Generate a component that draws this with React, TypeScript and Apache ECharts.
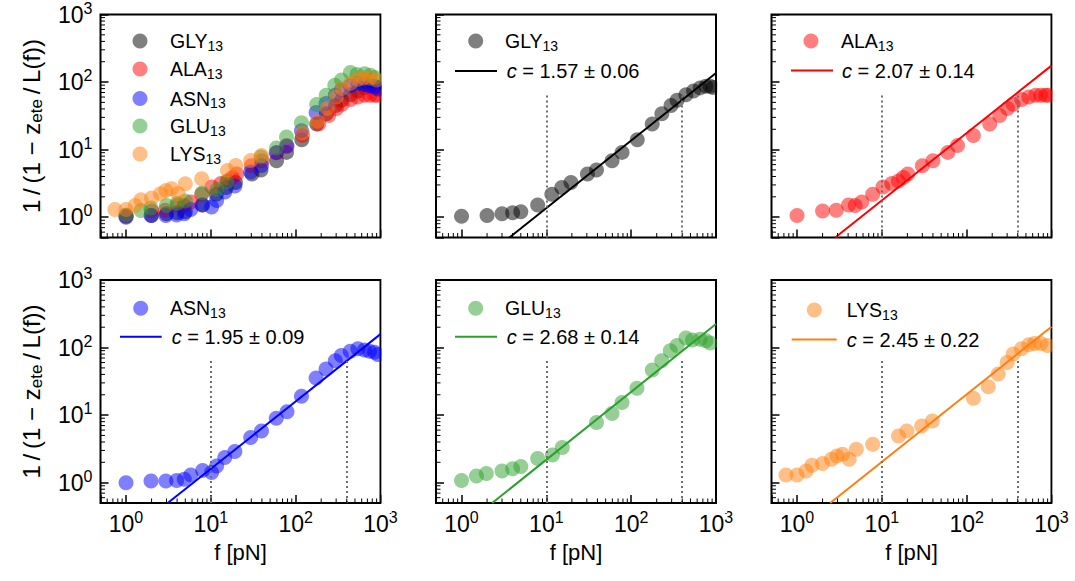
import React, { useEffect, useRef } from "react";
import * as echarts from "echarts";

const FONT = "'Liberation Sans', Arial, Helvetica, sans-serif";

// ---- data ----
const glyF = [1.0, 2.0, 3.0, 4.0, 5.0, 7.9, 11.6, 15.2, 19.5, 30.5, 39, 59.5, 78, 118, 177, 230, 295, 347, 442, 543, 650, 760, 855, 925];
const glyY = [1.03, 1.06, 1.12, 1.16, 1.2, 1.51, 2.18, 2.74, 3.25, 4.34, 5.0, 6.85, 9.1, 14, 24, 34, 45, 54, 65, 74, 82, 87, 87, 83];

const alaF = [1.0, 2.0, 2.9, 4.05, 4.85, 5.8, 7.8, 10.3, 13.1, 15.7, 17.9, 20.2, 30, 40, 60, 78, 120, 187, 245, 303, 353, 445, 540, 650, 745, 850, 910];
const alaY = [1.06, 1.23, 1.27, 1.51, 1.49, 1.67, 2.18, 2.8, 3.14, 3.44, 3.86, 4.34, 5.77, 6.85, 9.1, 11.5, 16.2, 24, 32, 40.5, 47, 55, 60, 64, 64, 64, 64];

const asnF = [1.0, 1.97, 2.95, 3.95, 4.86, 5.8, 8, 10.2, 11.7, 14.6, 19.2, 29.5, 39.5, 59, 79, 117, 174, 228, 293, 345, 440, 541, 647, 743, 850, 930];
const asnY = [1.0, 1.06, 1.06, 1.08, 1.12, 1.3, 1.52, 1.41, 1.77, 2.35, 2.89, 4.66, 5.84, 9.0, 11.2, 19, 35.5, 48, 64, 76, 88, 95.7, 92, 88, 85, 79];

const gluF = [1.0, 1.5, 1.96, 3.0, 4.0, 5.0, 7.9, 11.8, 15.4, 39, 59.5, 78, 117, 177, 229, 289, 347, 442, 528, 650, 760, 855];
const gluY = [1.08, 1.25, 1.37, 1.49, 1.61, 1.73, 2.27, 2.57, 3.31, 7.8, 10.6, 15.4, 24.9, 46.6, 64, 90, 107, 138, 129, 133, 126, 117];

const lysF = [0.74, 1.0, 1.28, 1.5, 2.0, 2.55, 2.95, 3.44, 4.12, 5.0, 7.8, 15.7, 19.7, 29.5, 39.4, 120, 180, 235, 300, 353, 443, 540, 631, 748, 895];
const lysY = [1.3, 1.3, 1.49, 1.81, 1.92, 2.22, 2.48, 2.63, 2.22, 3.12, 3.7, 4.9, 5.84, 6.9, 8.2, 17.7, 26.3, 40.6, 60, 80.5, 95.7, 110, 115, 115, 107];

// fitted power-law lines (endpoints)
const fitGly = [[3.67, 0.5], [1000, 136]];
const fitAla = [[2.82, 0.5], [1000, 175]];
const fitAsn = [[3.1, 0.5], [1000, 158]];
const fitGlu = [[2.3, 0.5], [1000, 223]];
const fitLys = [[2.46, 0.5], [1000, 203]];

const fitLabels = ["1.57 ± 0.06", "2.07 ± 0.14", "1.95 ± 0.09", "2.68 ± 0.14", "2.45 ± 0.22"];
const names = ["GLY", "ALA", "ASN", "GLU", "LYS"];
const colors = ["#000000", "#ff0000", "#0000ff", "#2ca02c", "#ff7f0e"];

const guideX = [10, 400];
const guideTop = 68;

const minorTicks = [0.6, 0.7, 0.8, 0.9, 2, 3, 4, 5, 6, 7, 8, 9, 20, 30, 40, 50, 60, 70, 80, 90, 200, 300, 400, 500, 600, 700, 800, 900];
const XMIN = 0.5, XMAX = 1000, YMIN = 0.5, YMAX = 1000;

// ---- layout ----
const LEFTS = [100.5, 436, 771.5];
const TOPS = [14.5, 280];
const W = 280;
const H = 223;

const zip = (a: number[], b: number[]) => a.map((v, i) => [v, b[i]]);
const datasets = [zip(glyF, glyY), zip(alaF, alaY), zip(asnF, asnY), zip(gluF, gluY), zip(lysF, lysY)];
const fits = [fitGly, fitAla, fitAsn, fitGlu, fitLys];

const powLabel = (v: number) => {
  const l = Math.log10(v);
  const e = Math.round(l);
  if (Math.abs(l - e) > 1e-6) return "";
  return `{b|10}{s|${e}}`;
};
const powRich = {
  b: { fontSize: 23, fontFamily: FONT, color: "#000", lineHeight: 29, verticalAlign: "middle" },
  s: { fontSize: 16, fontFamily: FONT, color: "#000", lineHeight: 16, verticalAlign: "top" },
};

const THIN = "\u2009";
const yTitle = `1${THIN}/${THIN}(1 − z{sub|ete}${THIN}/${THIN}L(f))`;

function buildOption() {
  const grid: any[] = [];
  const xAxis: any[] = [];
  const yAxis: any[] = [];
  const series: any[] = [];
  const graphic: any[] = [];

  const panelSets = [[0, 1, 2, 3, 4], [0], [1], [2], [3], [4]];

  for (let i = 0; i < 6; i++) {
    const row = Math.floor(i / 3);
    const col = i % 3;
    grid.push({
      left: LEFTS[col], top: TOPS[row], width: W, height: H,
      show: true, borderColor: "#000", borderWidth: 2, backgroundColor: "transparent",
    });
    xAxis.push({
      type: "log", logBase: 10, gridIndex: i, min: XMIN, max: XMAX,
      axisLine: { show: false },
      axisTick: { show: true, inside: true, length: 8, lineStyle: { color: "#000", width: 1.5 } },
      axisLabel: { show: row === 1, formatter: powLabel, rich: powRich, margin: 6 },
      splitLine: { show: false },
      name: row === 1 ? "f [pN]" : "",
      nameLocation: "middle", nameGap: 37,
      nameTextStyle: { fontSize: 22, fontFamily: FONT, color: "#000", lineHeight: 25 },
    });
    yAxis.push({
      type: "log", logBase: 10, gridIndex: i, min: YMIN, max: YMAX,
      axisLine: { show: false },
      axisTick: { show: true, inside: true, length: 8, lineStyle: { color: "#000", width: 1.5 } },
      axisLabel: { show: col === 0, formatter: powLabel, rich: powRich, margin: 8 },
      splitLine: { show: false },
      name: col === 0 ? yTitle : "",
      nameLocation: "middle", nameGap: 56, nameRotate: 90,
      nameTextStyle: {
        fontSize: 24, fontFamily: FONT, color: "#000", lineHeight: 27,
        rich: {
          sub: { fontSize: 17, fontFamily: FONT, color: "#000", lineHeight: 17, verticalAlign: "bottom" },
        },
      },
    });

    panelSets[i].forEach((d) => {
      series.push({
        type: "scatter", name: names[d], xAxisIndex: i, yAxisIndex: i,
        data: datasets[d], symbolSize: 15,
        itemStyle: { color: colors[d], opacity: 0.5 }, z: 2,
      });
    });

    if (i > 0) {
      const d = i - 1;
      series.push({
        type: "line", name: "fit " + names[d], xAxisIndex: i, yAxisIndex: i,
        data: fits[d], symbol: "none", showSymbol: false, clip: true,
        lineStyle: { color: colors[d], width: 2 }, z: 3,
        markLine: {
          silent: true, symbol: "none", label: { show: false },
          lineStyle: { color: "#6e6e6e", type: [2, 3], width: 2 },
          data: guideX.map((gx) => [{ coord: [gx, YMIN] }, { coord: [gx, guideTop] }]),
        },
      });
    }

    const minorData: number[][] = [];
    minorTicks.forEach((v) => minorData.push([v, YMIN, 0]));
    minorTicks.forEach((v) => minorData.push([XMIN, v, 1]));
    series.push({
      type: "custom", xAxisIndex: i, yAxisIndex: i, data: minorData, silent: true, clip: false, z: 5,
      renderItem: (params: any, api: any) => {
        const p = api.coord([api.value(0), api.value(1)]);
        const kind = api.value(2);
        const shape = kind === 0
          ? { x1: p[0], y1: p[1], x2: p[0], y2: p[1] - 4.5 }
          : { x1: p[0], y1: p[1], x2: p[0] + 4.5, y2: p[1] };
        return { type: "line", shape, style: { stroke: "#000", lineWidth: 1 } };
      },
    });

    // mask marker overflow beyond the right frame (matplotlib clips markers to the axes)
    graphic.push({
      type: "rect", z: 8, silent: true,
      shape: { x: LEFTS[col] + W + 1.2, y: TOPS[row] - 10, width: 10, height: H + 20 },
      style: { fill: "#ffffff" },
    });
  }

  const legRich = {
    s: { fontSize: 14, fontFamily: FONT, fill: "#000", lineHeight: 14, verticalAlign: "bottom" },
    i: { fontSize: 20, fontFamily: FONT, fill: "#000", fontStyle: "italic", lineHeight: 23 },
  };
  const addText = (x: number, y: number, text: string, size: number) => {
    graphic.push({
      type: "text", x, y, z: 10,
      style: {
        text, rich: legRich, fontSize: size, fontFamily: FONT, fill: "#000", lineHeight: 23,
        align: "left", verticalAlign: "middle", textAlign: "left", textVerticalAlign: "middle",
      },
    });
  };
  const addDot = (x: number, y: number, d: number) => {
    graphic.push({ type: "circle", z: 10, shape: { cx: x, cy: y, r: 7.5 }, style: { fill: colors[d], opacity: 0.5 } });
  };
  const addLine = (x1: number, x2: number, y: number, d: number) => {
    graphic.push({ type: "line", z: 10, shape: { x1, y1: y, x2, y2: y }, style: { stroke: colors[d], lineWidth: 2 } });
  };

  const p1Y = [41, 69, 98.5, 126, 154];
  names.forEach((n, d) => {
    addDot(140, p1Y[d], d);
    addText(170, p1Y[d], `${n}{s|13}`, 19.5);
  });

  const legs = [
    { dot: [475.7, 41], text: 505, line: [455, 497, 71], ctext: 506.7 },
    { dot: [811, 41], text: 841, line: [791, 833, 70.5], ctext: 842 },
    { dot: [140.7, 308.3], text: 170, line: [120, 161.7, 336.7], ctext: 171.7 },
    { dot: [475.7, 308.3], text: 505, line: [455, 497, 336.7], ctext: 506.7 },
    { dot: [814.3, 310], text: 846.7, line: [791.7, 836.7, 339.5], ctext: 846.7 },
  ];
  legs.forEach((L, d) => {
    addDot(L.dot[0], L.dot[1], d);
    addText(L.text, L.dot[1], `${names[d]}{s|13}`, 19.5);
    addLine(L.line[0], L.line[1], L.line[2], d);
    addText(L.ctext, L.line[2], `{i|c} = ${fitLabels[d]}`, 20);
  });

  return {
    animation: false,
    backgroundColor: "#ffffff",
    textStyle: { fontFamily: FONT },
    grid, xAxis, yAxis, series, graphic,
  };
}

export default function App() {
  const ref = useRef<HTMLDivElement>(null);
  useEffect(() => {
    if (!ref.current) return;
    const chart = echarts.init(ref.current, null, { renderer: "svg" });
    chart.setOption(buildOption() as any);
    return () => chart.dispose();
  }, []);
  return (
    <div
      ref={ref}
      style={{ position: "fixed", left: 0, top: 0, width: 1075, height: 581, background: "#fff" }}
    />
  );
}
